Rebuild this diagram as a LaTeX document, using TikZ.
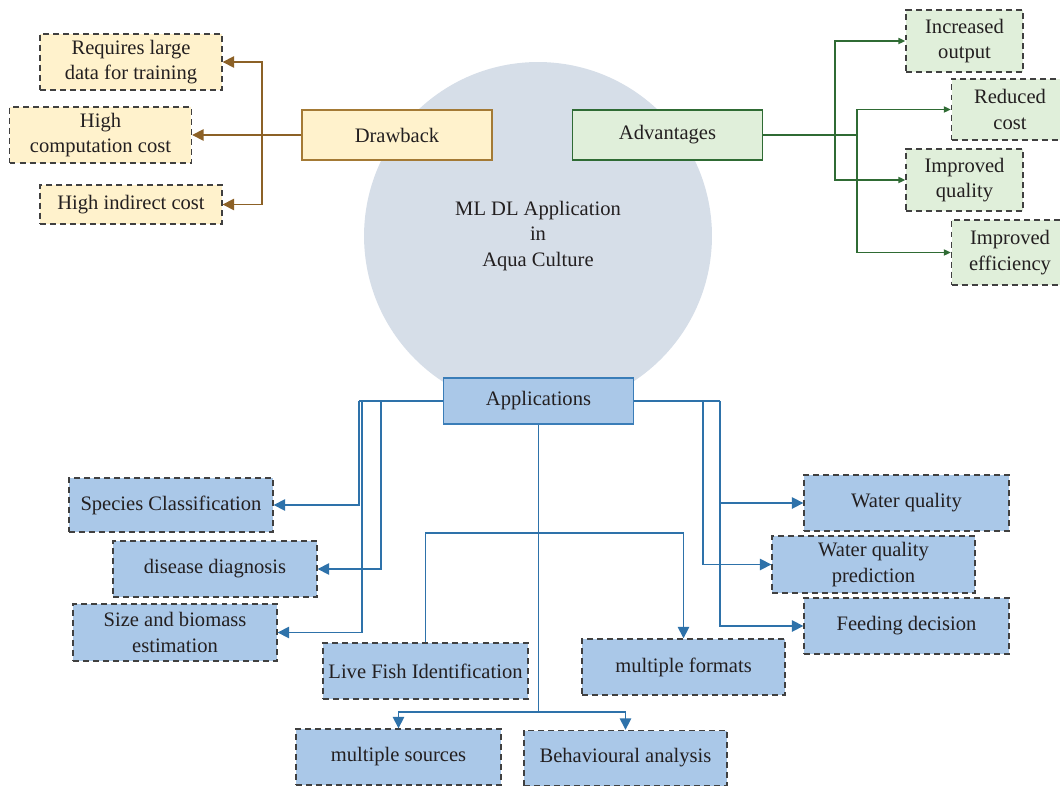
\documentclass[tikz,border=0pt]{standalone}
\usepackage{fontspec}
\setmainfont{Liberation Serif}
\usetikzlibrary{arrows.meta,positioning}
\definecolor{bubblefill}{HTML}{D6DEE8}
\definecolor{drawfill}{HTML}{FFF2CC}
\definecolor{drawline}{HTML}{A47A35}
\definecolor{drawarrow}{HTML}{8C6126}
\definecolor{advfill}{HTML}{E0EFDA}
\definecolor{advline}{HTML}{2F6B34}
\definecolor{appfill}{HTML}{AAC8E8}
\definecolor{appline}{HTML}{3A7DB8}
\definecolor{apparrow}{HTML}{2E72AA}
\definecolor{leafline}{HTML}{404040}
\definecolor{textcol}{HTML}{231F20}
\tikzset{
	every node/.style={font=\fontsize{11.7}{14.5}\selectfont, text=textcol, align=center, inner sep=1pt},
	bubble/.style={circle,fill=bubblefill,draw=none,minimum size=6.96cm},
	mainbox/.style={rectangle,line width=0.9pt,minimum width=3.8cm,minimum height=1cm},
	drawbox/.style={mainbox,draw=drawline,fill=drawfill},
	advbox/.style={mainbox,draw=advline,fill=advfill},
	appbox/.style={mainbox,draw=appline,fill=appfill,minimum height=0.92cm},
	leaf/.style={rectangle,draw=leafline,line width=0.8pt,dash pattern=on 3.4pt off 2.3pt},
	drawleaf/.style={leaf,fill=drawfill,minimum width=3.64cm,minimum height=1.12cm},
	advleaf/.style={leaf,fill=advfill,minimum width=2.34cm,minimum height=1.24cm},
	appleaf/.style={leaf,fill=appfill,minimum width=4.08cm,minimum height=1.12cm},
	brline/.style={color=drawarrow, line width=0.9pt},
	brarrow/.style={brline,-{Triangle[width=6.5pt,length=6.5pt]}},
	grline/.style={color=advline, line width=0.9pt},
	grarrow/.style={grline,-{Triangle[width=3.5pt,length=4pt]}},
	blline/.style={color=apparrow, line width=0.9pt},
	blarrow/.style={blline,-{Triangle[width=6.5pt,length=6.5pt]}}
}
\begin{document}
\begin{tikzpicture}[x=0.02cm,y=-0.02cm]
	\useasboundingbox (0,0) rectangle (1060,786);
	%%%centre
	\node[bubble] (core) at (538,236) {ML DL Application\\in\\Aqua Culture};

	%%%Drawback
	\node[drawbox] (drawback) at (397,135) {Drawback};
	\node[drawleaf] (dA) at (131,62) {Requires large\\data for training};
	\node[drawleaf] (dB) at (100.5,135) {High\\computation cost};
	\node[drawleaf,minimum height=0.78cm] (dC) at (131,204.5) {High indirect cost};
	\coordinate (dj) at (262,135);

	\draw[brarrow] (drawback.west) -- (dB.east);
	\draw[brarrow] (dj) |- (dA.east);
	\draw[brarrow] (dj) |- (dC.east);

	%%%Advantages
	\node[advbox] (adv) at (667.5,135) {Advantages};
	\node[advleaf] (aA) at (964.5,41) {Increased\\output};
	\node[advleaf,minimum height=1.22cm] (aB) at (1010,109.5) {Reduced\\cost};
	\node[advleaf] (aC) at (964.5,180) {Improved\\quality};
	\node[advleaf,minimum height=1.3cm] (aD) at (1010,252.5) {Improved\\efficiency};
	\coordinate (aj1) at (835,135);
	\coordinate (aj2) at (857,135);

	\draw[grline] (adv.east) -- (aj2);
	\draw[grarrow] (aj1) |- (aA.west);
	\draw[grarrow] (aj1) |- (aC.west);
	\draw[grarrow] (aj2) |- (aB.west);
	\draw[grarrow] (aj2) |- (aD.west);

	%%%Applications
	\node[appbox] (app) at (538.5,401) {Applications};
	\node[appleaf,minimum height=1.08cm] (species) at (171,505) {Species Classification};
	\node[appleaf] (disease) at (215,569) {disease diagnosis};
	\node[appleaf,minimum height=1.14cm] (size) at (175,632.5) {Size and biomass\\estimation};
	\node[appleaf,minimum width=4.1cm] (live) at (425.5,671) {Live Fish Identification};
	\node[appleaf,minimum width=4.06cm] (formats) at (683.5,667) {multiple formats};
	\node[appleaf,minimum width=4.1cm] (sources) at (398.5,757) {multiple sources};
	\node[appleaf,minimum width=4.06cm,minimum height=1.1cm] (behav) at (625.5,758) {Behavioural analysis};
	\node[appleaf,minimum width=4.1cm] (wq) at (906.5,503) {Water quality};
	\node[appleaf,minimum width=4.06cm,minimum height=1.14cm] (wqp) at (873.5,564.5) {Water quality\\prediction};
	\node[appleaf,minimum width=4.1cm] (feed) at (906.5,626) {Feeding decision};

	\coordinate (lj1) at (359,401);
	\coordinate (lj2) at (362,401);
	\coordinate (lj3) at (381,401);
	\coordinate (rj1) at (703,401);
	\coordinate (rj2) at (720,401);
	\coordinate (mj) at (538.5,533);
	\coordinate (bj) at (538.5,712);

	\draw[blline] (app.west) -- (lj1);
	\draw[blarrow] (lj1) |- (species.east);
	\draw[blarrow] (lj2) |- (size.east);
	\draw[blarrow] (lj3) |- (disease.east);

	\draw[blline] (app.east) -- (rj2);
	\draw[blarrow] (rj1) |- (wqp.west);
	\draw[blarrow] (rj2) |- (wq.west);
	\draw[blarrow] (rj2) |- (feed.west);

	\draw[blline] (app.south) -- (bj);
	\draw[blline] (mj) -| (live.north);
	\draw[blarrow] (mj) -| (formats.north);
	\draw[blarrow] (bj) -| (sources.north);
	\draw[blarrow] (bj) -| (behav.north);

\end{tikzpicture}
\end{document}
